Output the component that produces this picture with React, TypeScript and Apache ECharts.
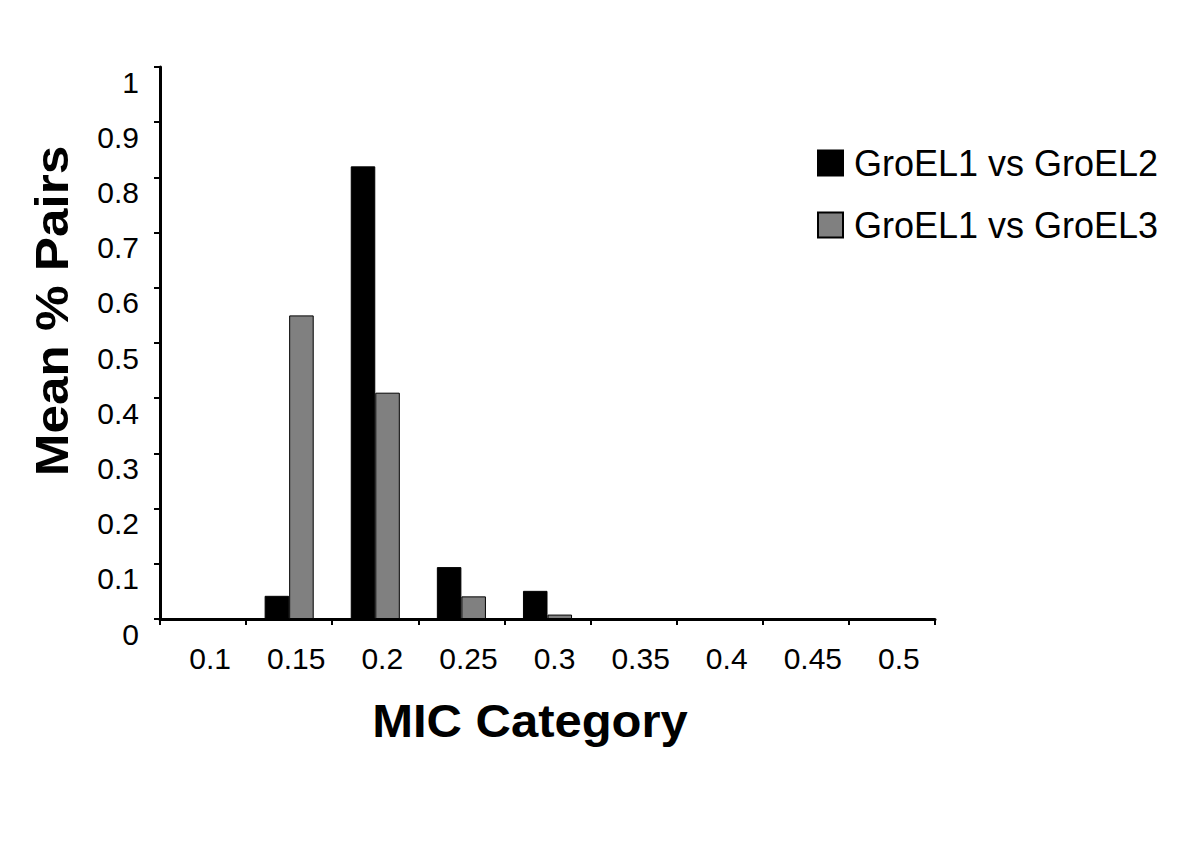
import React, { useEffect, useRef } from "react";
import * as echarts from "echarts";

const categories = ["0.1", "0.15", "0.2", "0.25", "0.3", "0.35", "0.4", "0.45", "0.5"];
const groel1vs2 = [0, 0.042, 0.82, 0.094, 0.051, 0, 0, 0, 0];
const groel1vs3 = [0, 0.55, 0.41, 0.041, 0.008, 0, 0, 0, 0];
const seriesNames = ["GroEL1 vs GroEL2", "GroEL1 vs GroEL3"];
const yAxisTitle = "Mean % Pairs";
const xAxisTitle = "MIC Category";

const FONT = "'Liberation Sans', Arial, Helvetica, sans-serif";

export default function App() {
  const ref = useRef<HTMLDivElement>(null);
  useEffect(() => {
    if (!ref.current) return;
    const chart = echarts.init(ref.current, undefined, { renderer: "svg" });
    chart.setOption({
      animation: false,
      backgroundColor: "#ffffff",
      textStyle: { fontFamily: FONT },
      grid: { left: 160, right: 265, top: 67, bottom: 223, containLabel: false },
      legend: {
        orient: "vertical",
        left: 812,
        top: 140,
        itemWidth: 25,
        itemHeight: 25,
        itemGap: 26,
        icon: "rect",
        textStyle: { fontSize: 36, color: "#000", fontFamily: FONT, padding: [0, 0, 0, 6] },
        data: seriesNames,
      },
      xAxis: {
        type: "category",
        data: categories,
        axisLine: { show: true, lineStyle: { color: "#000", width: 3 } },
        axisTick: { show: true, alignWithLabel: false, length: 6, lineStyle: { color: "#000", width: 2 } },
        axisLabel: { fontSize: 30, color: "#000", margin: 24, fontFamily: FONT, padding: [0, 0, 0, 14] },
        splitLine: { show: false },
      },
      yAxis: {
        type: "value",
        min: 0,
        max: 1,
        interval: 0.1,
        axisLine: { show: true, lineStyle: { color: "#000", width: 3 } },
        axisTick: { show: true, length: 6, lineStyle: { color: "#000", width: 2 } },
        axisLabel: {
          fontSize: 30,
          color: "#000",
          margin: 21,
          fontFamily: FONT,
          verticalAlign: "top",
        },
        splitLine: { show: false },
      },
      series: [
        {
          name: seriesNames[0],
          type: "bar",
          data: groel1vs2,
          barGap: "0%",
          barCategoryGap: "43%",
          itemStyle: { color: "#000000", borderColor: "#000", borderWidth: 1 },
        },
        {
          name: seriesNames[1],
          type: "bar",
          data: groel1vs3,
          barGap: "0%",
          barCategoryGap: "43%",
          itemStyle: { color: "#808080", borderColor: "#000", borderWidth: 1 },
        },
      ],
      graphic: [
        {
          type: "text",
          x: 51,
          y: 311,
          rotation: Math.PI / 2,
          scaleX: 1.09,
          style: {
            text: yAxisTitle,
            fontSize: 47,
            fontWeight: "bold",
            fill: "#000",
            fontFamily: FONT,
            align: "center",
            verticalAlign: "middle",
          },
        },
        {
          type: "text",
          x: 530,
          y: 721,
          scaleX: 1.065,
          style: {
            text: xAxisTitle,
            fontSize: 46,
            fontWeight: "bold",
            fill: "#000",
            fontFamily: FONT,
            align: "center",
            verticalAlign: "middle",
          },
        },
      ],
    });
    return () => chart.dispose();
  }, []);
  return (
    <div
      ref={ref}
      style={{ position: "absolute", left: 0, top: 0, width: 1200, height: 842, background: "#fff" }}
    />
  );
}
